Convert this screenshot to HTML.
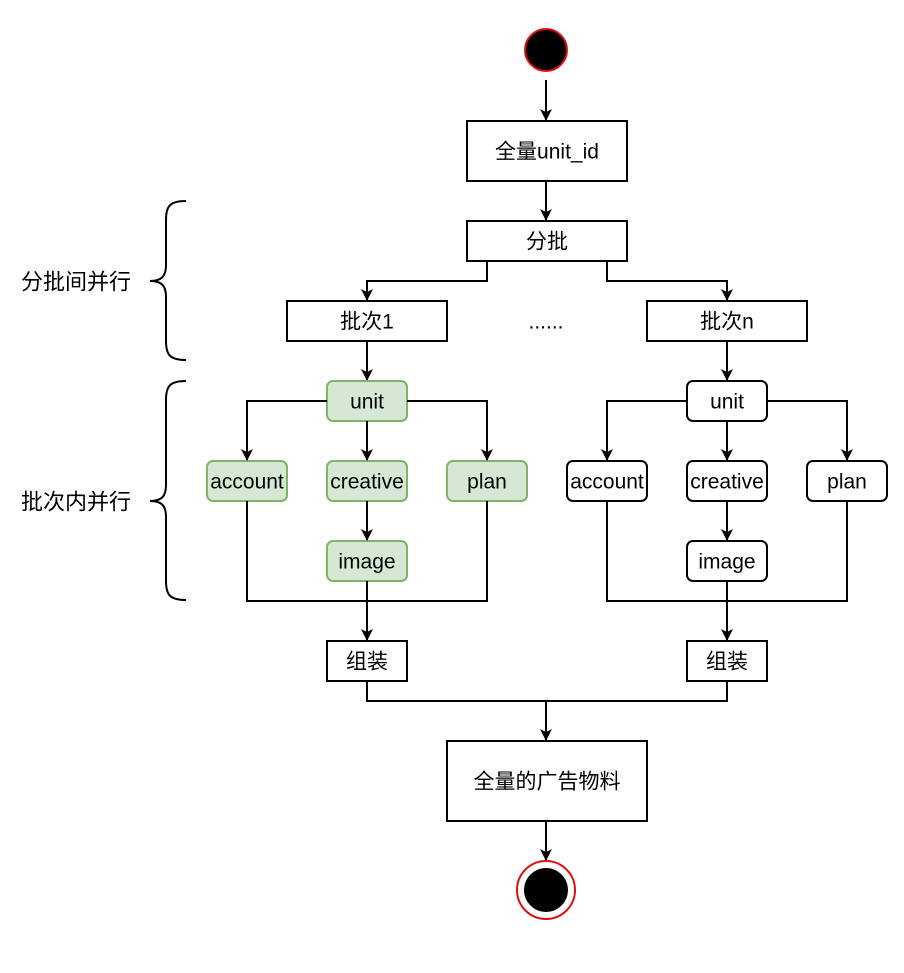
<!DOCTYPE html>
<html><head><meta charset="utf-8"><style>
html,body{margin:0;padding:0;background:#fff}
text{font-family:"Liberation Sans","Noto Sans CJK SC",sans-serif;font-size:21px;fill:#000}
</style></head><body>
<svg width="904" height="968" viewBox="0 0 904 968" xmlns="http://www.w3.org/2000/svg">
<defs><marker id="a" markerWidth="12" markerHeight="12" refX="11" refY="6" orient="auto" markerUnits="userSpaceOnUse"><path d="M0,0 L12,6 L0,12 L3,6 Z" fill="#000"/></marker></defs>
<g fill="none" stroke="#000" stroke-width="2">
<circle cx="546" cy="50" r="21" fill="#000" stroke="#e01010"/>
<path d="M546,80V120" marker-end="url(#a)"/>
<rect x="467" y="121" width="160" height="60" fill="#fff"/>
<path d="M546,181V220" marker-end="url(#a)"/>
<rect x="467" y="221" width="160" height="40" fill="#fff"/>
<path d="M487,261V281H367V300" marker-end="url(#a)"/>
<path d="M607,261V281H727V300" marker-end="url(#a)"/>
<rect x="287" y="301" width="160" height="40"/>
<rect x="647" y="301" width="160" height="40"/>
<path d="M367,341V380" marker-end="url(#a)"/>
<path d="M727,341V380" marker-end="url(#a)"/>
<g stroke="#82b366" fill="#d5e8d4">
<rect x="327" y="381" width="80" height="40" rx="6"/>
<rect x="207" y="461" width="80" height="40" rx="6"/>
<rect x="327" y="461" width="80" height="40" rx="6"/>
<rect x="447" y="461" width="80" height="40" rx="6"/>
<rect x="327" y="541" width="80" height="40" rx="6"/>
</g>
<rect x="687" y="381" width="80" height="40" rx="6"/>
<rect x="567" y="461" width="80" height="40" rx="6"/>
<rect x="687" y="461" width="80" height="40" rx="6"/>
<rect x="807" y="461" width="80" height="40" rx="6"/>
<rect x="687" y="541" width="80" height="40" rx="6"/>
<path d="M327,401H247V460" marker-end="url(#a)"/>
<path d="M407,401H487V460" marker-end="url(#a)"/>
<path d="M367,421V460" marker-end="url(#a)"/>
<path d="M367,501V540" marker-end="url(#a)"/>
<path d="M247,501V601H487V501"/>
<path d="M367,581V640" marker-end="url(#a)"/>
<path d="M687,401H607V460" marker-end="url(#a)"/>
<path d="M767,401H847V460" marker-end="url(#a)"/>
<path d="M727,421V460" marker-end="url(#a)"/>
<path d="M727,501V540" marker-end="url(#a)"/>
<path d="M607,501V601H847V501"/>
<path d="M727,581V640" marker-end="url(#a)"/>
<rect x="327" y="641" width="80" height="40"/>
<rect x="687" y="641" width="80" height="40"/>
<path d="M367,681V701H727V681"/>
<path d="M546,701V740" marker-end="url(#a)"/>
<rect x="447" y="741" width="200" height="80"/>
<path d="M546,821V860" marker-end="url(#a)"/>
<circle cx="546" cy="890" r="29" fill="#fff" stroke="#e01010"/>
<circle cx="546" cy="890" r="21" fill="#000" stroke="#000"/>
<path d="M186,201C170,201 166,206 166,220V265C166,276 162,281 150,281C162,281 166,286 166,297V341C166,355 170,360 186,360"/>
<path d="M186,381C170,381 166,386 166,400V485C166,496 162,501 150,501C162,501 166,506 166,517V581C166,595 170,600 186,600"/>
</g>
<g text-anchor="middle" dominant-baseline="central">
<text x="547" y="152">全量unit_id</text>
<text x="547" y="242">分批</text>
<text x="367" y="322">批次1</text>
<text x="727" y="322">批次n</text>
<text x="546" y="322">......</text>
<text x="367" y="402">unit</text><text x="247" y="482">account</text><text x="367" y="482">creative</text><text x="487" y="482">plan</text><text x="367" y="562">image</text>
<text x="727" y="402">unit</text><text x="607" y="482">account</text><text x="727" y="482">creative</text><text x="847" y="482">plan</text><text x="727" y="562">image</text>
<text x="367" y="662">组装</text><text x="727" y="662">组装</text>
<text x="547" y="782">全量的广告物料</text>
<text x="76" y="282" style="font-size:22px">分批间并行</text>
<text x="76" y="502" style="font-size:22px">批次内并行</text>
</g>
</svg>
</body></html>
